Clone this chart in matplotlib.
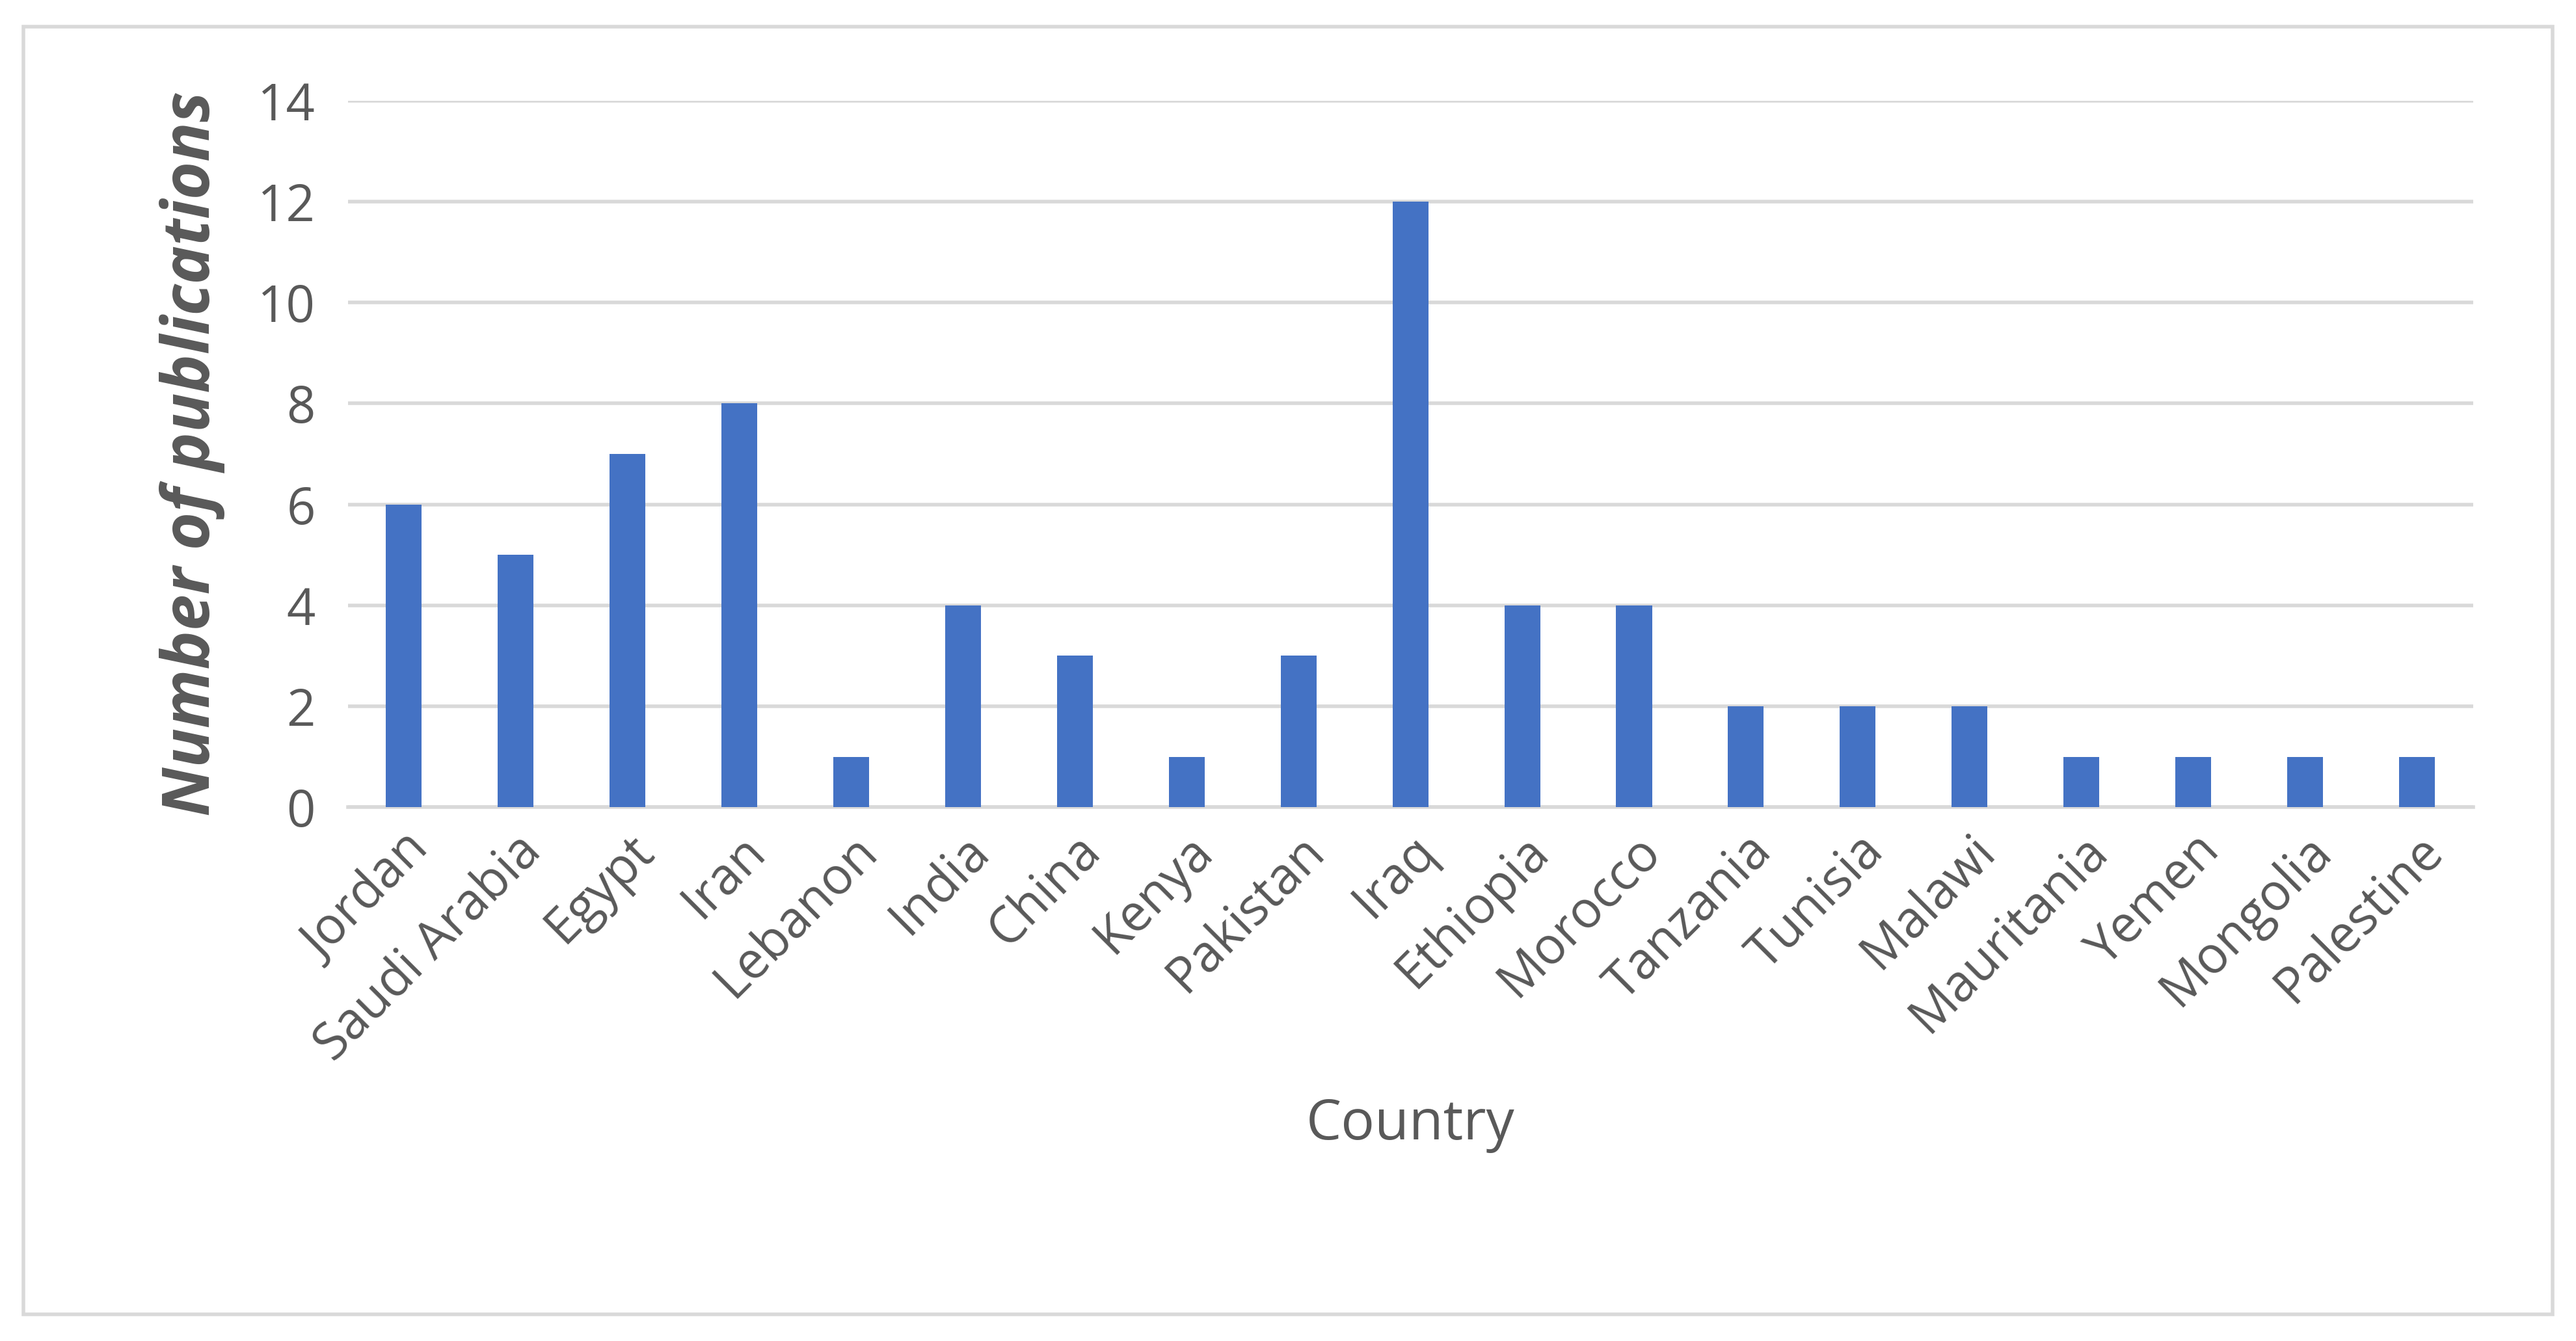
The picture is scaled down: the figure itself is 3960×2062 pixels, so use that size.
import matplotlib.pyplot as plt
from matplotlib.patches import Rectangle

countries = ["Jordan", "Saudi Arabia", "Egypt", "Iran", "Lebanon", "India", "China",
             "Kenya", "Pakistan", "Iraq", "Ethiopia", "Morocco", "Tanzania", "Tunisia",
             "Malawi", "Mauritania", "Yemen", "Mongolia", "Palestine"]
publications = [6, 5, 7, 8, 1, 4, 3, 1, 3, 12, 4, 4, 2, 2, 2, 1, 1, 1, 1]
yticks = [0, 2, 4, 6, 8, 10, 12, 14]

plt.rcParams['font.family'] = ['Open Sans', 'DejaVu Sans']
grey = '#595959'

fig = plt.figure(figsize=(19.8, 10.31), dpi=200)
ax = fig.add_axes([0.135, 0.398, 0.825, 0.527])

x = range(len(countries))
ax.bar(x, publications, width=0.32, color='#4472C4', zorder=3)
ax.set_xlim(-0.5, len(countries) - 0.5)
ax.set_ylim(0, 14)
ax.set_yticks(yticks)
ax.set_yticklabels([str(v) for v in yticks], fontsize=28, color=grey)
ax.set_xticks(list(x))
ax.set_xticklabels(countries, rotation=45, ha='right', rotation_mode='anchor',
                   fontsize=28, color=grey)
ax.tick_params(axis='y', length=0, pad=18)
ax.tick_params(axis='x', length=0, pad=10)
ax.grid(axis='y', color='#d9d9d9', linewidth=2, zorder=0)
for s in ['top', 'right', 'left']:
    ax.spines[s].set_visible(False)
ax.spines['bottom'].set_color('#d9d9d9')
ax.spines['bottom'].set_linewidth(2)

ax.set_ylabel('Number of publications', fontsize=36, fontweight='bold',
              fontstyle='italic', color=grey, labelpad=18)
ax.set_xlabel('Country', fontsize=31, color=grey, labelpad=14)

fig.patches.append(Rectangle((0.009, 0.02), 0.982, 0.96, transform=fig.transFigure,
                             fill=False, edgecolor='#d9d9d9', linewidth=2))

fig.savefig('out.png', dpi=200, facecolor='white')
